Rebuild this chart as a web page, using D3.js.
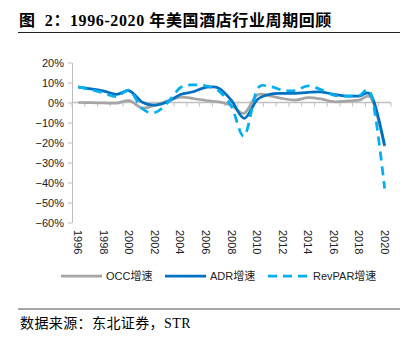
<!DOCTYPE html>
<html>
<head>
<meta charset="utf-8">
<script src="https://cdn.jsdelivr.net/npm/d3@7"></script>
<style>
  html, body { margin: 0; padding: 0; background: #fff; }
  svg { display: block; }
</style>
</head>
<body>
<div id="chart"></div>
<script>
// yearly growth rates, %
const years = d3.range(1996, 2021);
const occ = [0, -0.1, -0.2, -0.3, 0.9, -2.8, -1.3, 0.8, 2.7, 2.0, 1.0, 0.3, -1.5, -5.4, 3.7, 3.3, 2.0, 1.2, 2.4, 1.8, 0.4, 0.7, 1.2, 1.6, -22];
const adr = [7.7, 6.8, 5.7, 4.1, 5.8, 0.2, -1.3, 0.4, 4.0, 5.4, 7.6, 7.2, 1.0, -7.9, 1.3, 4.1, 4.6, 4.6, 5.1, 5.3, 4.1, 3.2, 3.2, 3.0, -21.5];
const revpar = [7.8, 6.4, 4.7, 2.9, 6.1, -3.0, -5.0, 0.0, 7.5, 8.8, 8.3, 5.8, -2.0, -16.7, 6.3, 7.9, 6.2, 6.0, 8.3, 6.5, 3.7, 3.2, 3.5, 2.9, -43];
const yTicks = [20, 10, 0, -10, -20, -30, -40, -50, -60];
const xLabels = d3.range(1996, 2021, 2);

const series = [
  { name: 'OCC增速', values: occ, color: '#A5A5A5', dash: null },
  { name: 'ADR增速', values: adr, color: '#0070C0', dash: null },
  { name: 'RevPAR增速', values: revpar, color: '#00B0F0', dash: '9,6' }
];

const width = 418, height = 341;
const svg = d3.select('#chart').append('svg')
  .attr('width', width)
  .attr('height', height);

const serif = '"Liberation Serif", "Times New Roman", "Noto Sans CJK SC", serif';
const sans = '"Liberation Sans", Arial, "Noto Sans CJK SC", sans-serif';

// title + rules
svg.append('text')
  .attr('x', 19).attr('y', 26)
  .attr('xml:space', 'preserve')
  .style('white-space', 'pre')
  .style('font-family', serif)
  .style('font-weight', 'bold')
  .style('font-size', '16px')
  .style('letter-spacing', '0.6px')
  .attr('fill', '#000')
  .text('图  2：1996-2020 年美国酒店行业周期回顾');
svg.append('line')
  .attr('x1', 18).attr('x2', 400).attr('y1', 32.5).attr('y2', 32.5)
  .attr('stroke', '#222').attr('stroke-width', 1);
svg.append('line')
  .attr('x1', 18).attr('x2', 400).attr('y1', 309).attr('y2', 309)
  .attr('stroke', '#888').attr('stroke-width', 1.5);
svg.append('text')
  .attr('x', 20).attr('y', 328)
  .style('font-family', serif)
  .style('font-size', '14px')
  .style('letter-spacing', '0.4px')
  .attr('fill', '#000')
  .text('数据来源：东北证券，STR');

// scales
const x = d3.scaleBand().domain(years).range([72, 391]).padding(0);
const y = d3.scaleLinear().domain([-60, 20]).range([222.5, 62.5]);
const cx = d => x(d) + x.bandwidth() / 2;

// y axis
const yAxis = svg.append('g')
  .attr('transform', 'translate(72,0)')
  .call(d3.axisLeft(y).tickValues(yTicks).tickSize(4).tickSizeOuter(0)
    .tickFormat(d => (d < 0 ? '\u2212' + (-d) : d) + '%'));
yAxis.select('.domain').attr('stroke', '#BFBFBF');
yAxis.selectAll('.tick line').attr('stroke', '#BFBFBF');
yAxis.selectAll('text')
  .attr('x', -8)
  .style('font-family', sans)
  .style('font-size', '11px')
  .attr('fill', '#222');

// x axis on the zero line, ticks at band edges
const x0 = y(0);
const xAxis = svg.append('g');
xAxis.append('line')
  .attr('x1', x.range()[0]).attr('x2', x.range()[1])
  .attr('y1', x0).attr('y2', x0)
  .attr('stroke', '#BFBFBF').attr('stroke-width', 1.5);
xAxis.selectAll('line.tk')
  .data(years.map(d => x(d)).concat([x.range()[1]]))
  .enter().append('line')
    .attr('class', 'tk')
    .attr('x1', d => d).attr('x2', d => d)
    .attr('y1', x0).attr('y2', x0 + 4)
    .attr('stroke', '#BFBFBF');

svg.selectAll('text.xl')
  .data(xLabels)
  .enter().append('text')
    .attr('class', 'xl')
    .attr('transform', d => 'translate(' + (cx(d) - 4) + ',230) rotate(90)')
    .style('font-family', sans)
    .style('font-size', '11px')
    .attr('fill', '#222')
    .text(d => d);

// lines
const line = d3.line()
  .x((d, i) => cx(years[i]))
  .y(d => y(d))
  .curve(d3.curveCatmullRom.alpha(0));

svg.selectAll('path.series')
  .data(series)
  .enter().append('path')
    .attr('class', 'series')
    .attr('d', d => line(d.values))
    .attr('fill', 'none')
    .attr('stroke', d => d.color)
    .attr('stroke-width', 2.75)
    .attr('stroke-dasharray', d => d.dash);

// legend
const legendX = [61, 165, 268];
const lg = svg.selectAll('g.lg')
  .data(series)
  .enter().append('g')
    .attr('class', 'lg')
    .attr('transform', (d, i) => 'translate(' + legendX[i] + ',276)');
lg.append('line')
  .attr('x1', 0).attr('x2', 41)
  .attr('stroke', d => d.color)
  .attr('stroke-width', 2.75)
  .attr('stroke-dasharray', d => d.dash);
lg.append('text')
  .attr('x', 45).attr('y', 4)
  .style('font-family', sans)
  .style('font-size', '11px')
  .attr('fill', '#222')
  .text(d => d.name);
</script>
</body>
</html>
